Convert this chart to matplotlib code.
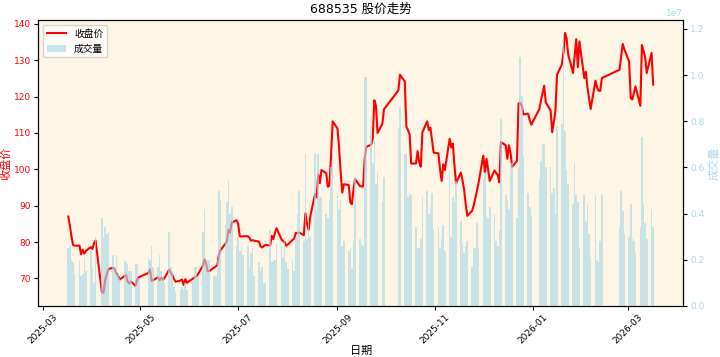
import matplotlib
matplotlib.use("Agg")
import matplotlib.pyplot as plt
import matplotlib.dates as mdates
import pandas as pd

plt.rcParams["font.family"] = ["DejaVu Sans", "Noto Sans CJK SC"]
plt.rcParams["axes.unicode_minus"] = False

STOCK_CODE = "688535"

# A 股休市日（区间内的工作日）
HOLIDAYS = [
    "2025-04-04", "2025-05-01", "2025-05-02", "2025-05-05", "2025-06-02",
    "2025-10-01", "2025-10-02", "2025-10-03", "2025-10-06", "2025-10-07", "2025-10-08",
    "2026-01-01", "2026-01-02",
    "2026-02-16", "2026-02-17", "2026-02-18", "2026-02-19", "2026-02-20", "2026-02-23",
]
START, END = "2025-03-17", "2026-03-17"

# 收盘价（按交易日顺序，逐月）
close_prices = [
    # 2025-03
    87.0, 84.5, 81.5, 79.2, 79.0, 79.0, 76.6, 77.9, 76.8, 77.6, 78.6,
    # 2025-04
    78.1, 79.6, 80.4, 66.2, 66.0, 69.5, 71.0, 72.6, 72.9, 72.5, 71.4, 70.8, 69.7,
    70.6, 71.0, 69.2, 68.6, 69.2, 67.9, 69.8, 70.3,
    # 2025-05
    71.5, 72.5, 69.3, 69.5, 70.3, 69.5, 70.2, 69.6, 70.1, 72.4, 71.6, 70.8, 69.8,
    69.1, 69.4, 69.7, 68.2, 69.8, 68.8,
    # 2025-06
    70.0, 70.3, 70.6, 71.2, 73.5, 75.2, 74.0, 72.0, 72.0, 73.0, 73.3, 73.6, 76.5,
    77.8, 79.5, 80.2, 83.4, 82.6, 85.4, 86.0,
    # 2025-07
    85.0, 81.6, 81.5, 81.6, 81.6, 81.2, 80.4, 80.5, 80.4, 80.1, 78.8, 78.5, 78.9,
    79.2, 79.1, 81.7, 80.8, 82.6, 83.8, 80.8, 80.3, 80.0, 79.0,
    # 2025-08
    79.3, 80.6, 81.0, 82.5, 82.5, 82.6, 81.9, 87.9, 85.0, 83.4, 87.0, 93.2, 92.3,
    98.6, 96.2, 99.8, 98.9, 95.2, 95.6, 104.0, 113.2,
    # 2025-09
    111.2, 106.0, 99.0, 93.6, 95.9, 95.7, 91.0, 90.4, 94.5, 97.3, 95.4, 95.3, 95.3,
    103.0, 106.2, 106.8, 108.5, 119.0, 117.5, 110.0, 112.5, 116.5,
    # 2025-10
    121.7, 126.0, 124.2, 111.7, 110.8, 109.6, 101.6, 101.6, 105.0, 102.0, 100.7,
    110.2, 113.2, 110.8, 111.5, 108.0, 104.6,
    # 2025-11
    104.4, 100.0, 96.8, 101.4, 99.8, 108.4, 106.0, 107.1, 101.0, 96.2, 99.1, 97.0,
    94.5, 90.5, 87.2, 88.6, 90.0, 92.0, 94.0, 96.2,
    # 2025-12
    103.8, 99.1, 102.9, 100.0, 96.8, 99.7, 99.0, 98.4, 96.4, 107.5, 106.6, 102.9,
    106.6, 104.5, 100.7, 102.3, 118.1, 118.3, 117.5, 115.1, 115.3, 113.5, 112.3,
    # 2026-01
    116.6, 119.0, 121.0, 123.0, 118.4, 116.2, 110.2, 113.0, 116.0, 126.0, 128.8,
    132.0, 137.5, 136.0, 131.5, 126.5, 131.0, 135.8, 128.1, 135.2,
    # 2026-02
    125.1, 126.9, 122.5, 119.5, 116.6, 124.4, 122.5, 121.6, 121.6, 125.1, 127.4,
    131.0, 134.5, 133.0,
    # 2026-03
    129.7, 119.6, 119.2, 121.0, 122.8, 117.5, 134.2, 132.5, 130.9, 126.5, 132.0, 123.3,
]

# 成交量（万股）
volume_wan = [
    # 2025-03
    250, 260, 200, 190, 140, 200, 130, 140, 210, 150, 240,
    # 2025-04
    170, 100, 300, 380, 300, 340, 310, 320, 220, 170, 220, 140, 120, 200, 190, 180,
    150, 150, 180, 180, 120,
    # 2025-05
    210, 200, 260, 170, 170, 220, 150, 120, 100, 320, 170, 150, 80, 60, 70, 80, 70,
    100, 70,
    # 2025-06
    110, 170, 170, 130, 320, 420, 200, 200, 200, 130, 130, 200, 500, 460, 350, 450,
    540, 400, 430, 260,
    # 2025-07
    300, 240, 260, 220, 260, 170, 230, 250, 130, 190, 150, 170, 100, 100, 330, 190,
    200, 200, 270, 260, 210, 300, 190,
    # 2025-08
    160, 200, 150, 300, 400, 500, 280, 660, 290, 380, 300, 660, 410, 660, 470, 470,
    400, 380, 460, 600, 680,
    # 2025-09
    490, 420, 460, 260, 280, 240, 250, 160, 280, 560, 290, 270, 260, 990, 990, 780,
    620, 720, 530, 580, 450, 560,
    # 2025-10
    770, 860, 660, 660, 470, 490, 480, 340, 250, 250, 290, 470, 500, 400, 430, 490, 330,
    # 2025-11
    340, 250, 290, 350, 240, 580, 300, 470, 450, 540, 370, 270, 230, 260, 280, 170,
    250, 250, 360, 250,
    # 2025-12
    550, 580, 390, 380, 430, 400, 280, 260, 330, 810, 480, 460, 420, 600, 620, 380,
    600, 1080, 910, 650, 490, 430, 390,
    # 2026-01
    550, 630, 700, 700, 600, 600, 490, 510, 400, 780, 790, 1180, 760, 590, 530, 440,
    620, 480, 450, 250,
    # 2026-02
    480, 370, 440, 310, 210, 480, 200, 190, 280, 480, 340, 500, 410, 310,
    # 2026-03
    300, 440, 290, 280, 230, 340, 730, 440, 360, 290, 420, 340,
]


def main() -> None:
    dates = pd.bdate_range(START, END, freq="C", holidays=HOLIDAYS)
    df = pd.DataFrame(
        {"close": close_prices, "volume": [v * 1e4 for v in volume_wan]},
        index=dates,
    )

    fig, ax1 = plt.subplots(figsize=(7.2, 3.57), dpi=100)
    fig.subplots_adjust(left=0.053, right=0.949, top=0.944, bottom=0.143)
    ax1.set_facecolor("#FDF5E6")

    line, = ax1.plot(df.index, df["close"], color="red", linewidth=1.5, label="收盘价")
    ax1.set_ylabel("收盘价", color="red", fontsize=8, labelpad=2)
    ax1.tick_params(axis="y", labelcolor="red", labelsize=6.5, length=3, pad=2)
    ax1.set_xlabel("日期", fontsize=8, labelpad=0)

    ax2 = ax1.twinx()
    bars = ax2.bar(df.index, df["volume"], width=1.0, color="lightblue",
                   alpha=0.65, label="成交量")
    ax2.set_ylabel("成交量", color="lightblue", fontsize=8, labelpad=3)
    ax2.tick_params(axis="y", labelcolor="lightblue", labelsize=6.5, length=3, pad=2)
    ax2.yaxis.get_offset_text().set_fontsize(6.5)

    ax1.xaxis.set_major_locator(mdates.MonthLocator(bymonth=[1, 3, 5, 7, 9, 11]))
    ax1.xaxis.set_major_formatter(mdates.DateFormatter("%Y-%m"))
    ax1.tick_params(axis="x", labelsize=6.5, length=3, pad=2)
    for lbl in ax1.get_xticklabels():
        lbl.set_rotation(45)

    ax1.set_title(f"{STOCK_CODE} 股价走势", fontsize=9, pad=5)
    ax2.legend([line, bars], ["收盘价", "成交量"], loc="upper left", fontsize=7)

    fig.savefig("out.png", dpi=100)
    plt.close(fig)


if __name__ == "__main__":
    main()
